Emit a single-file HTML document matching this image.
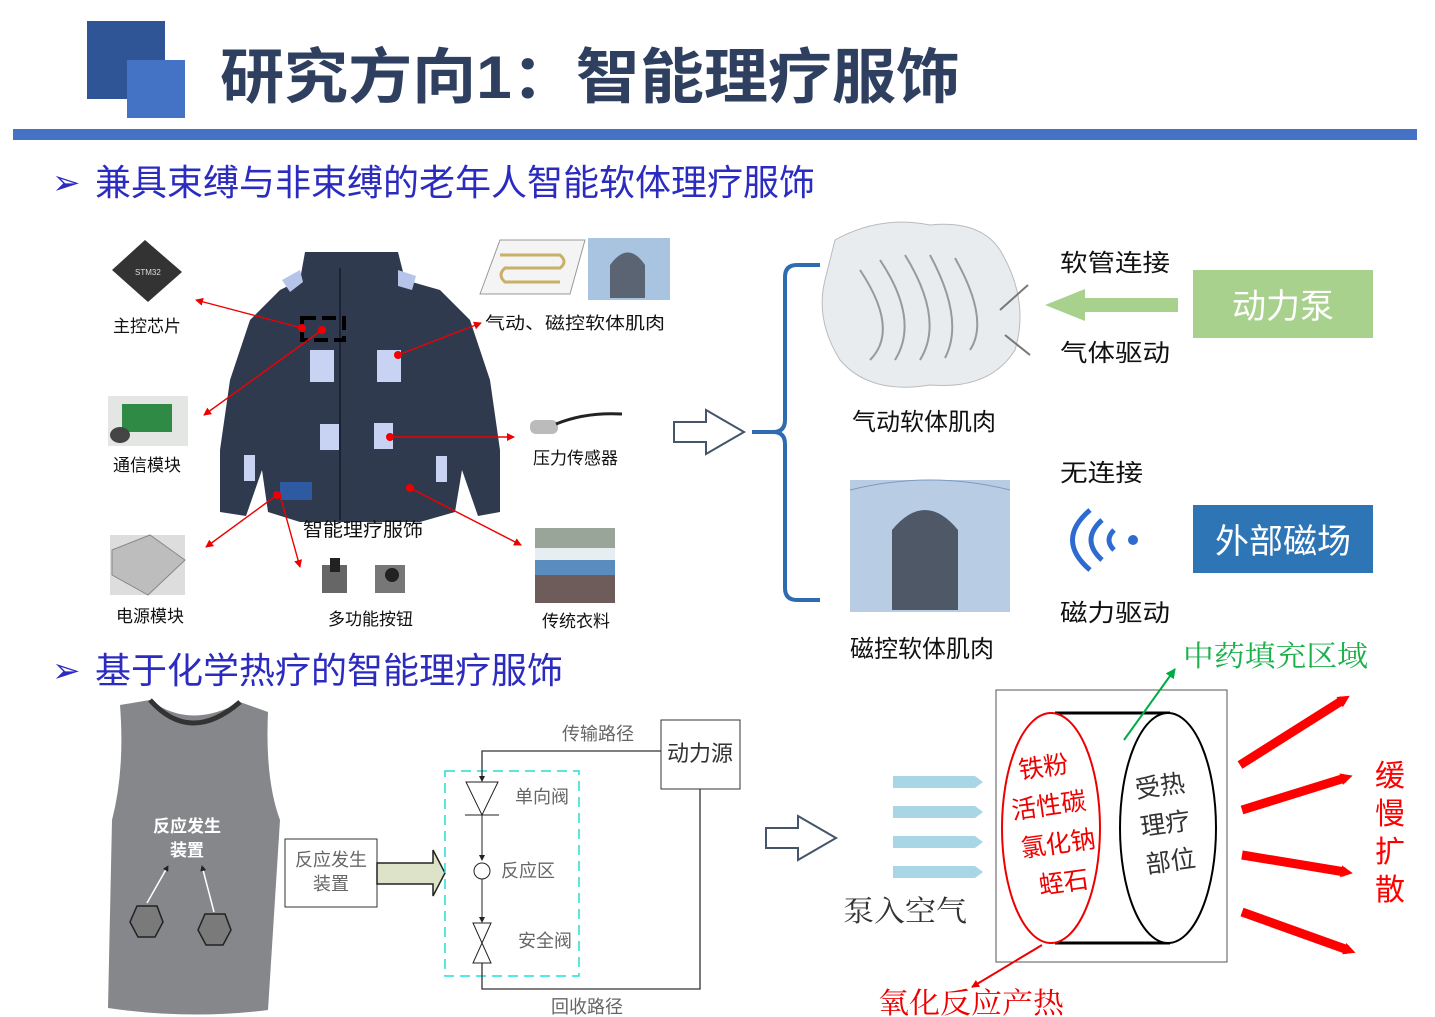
<!DOCTYPE html>
<html><head><meta charset="utf-8"><style>
body{margin:0;background:#fff;}
svg{display:block;}
text{font-family:"Liberation Sans","Noto Sans CJK SC",sans-serif;}
.serif{font-family:"Liberation Serif","Noto Serif CJK SC",serif;}
</style></head><body>
<svg width="1435" height="1017" viewBox="0 0 1435 1017" xmlns="http://www.w3.org/2000/svg">
<defs>
<marker id="ra" markerWidth="8" markerHeight="8" refX="7" refY="4" orient="auto" markerUnits="userSpaceOnUse"><path d="M0,0 L8,4 L0,8 z" fill="#e00"/></marker>
<marker id="ka" markerWidth="6" markerHeight="6" refX="5" refY="3" orient="auto" markerUnits="userSpaceOnUse"><path d="M0,0 L6,3 L0,6 z" fill="#222"/></marker>
<marker id="ga" markerWidth="10" markerHeight="10" refX="9" refY="5" orient="auto" markerUnits="userSpaceOnUse"><path d="M0,0 L10,5 L0,10 z" fill="#0a4"/></marker>
<marker id="rl" markerWidth="12" markerHeight="12" refX="4" refY="6" orient="auto" markerUnits="userSpaceOnUse"><path d="M0,0 L12,6 L0,12 z" fill="#f00"/></marker>
</defs>
<rect x="87" y="21" width="78" height="78" fill="#2F5597"/>
<rect x="127" y="60" width="58" height="58" fill="#4472C4"/>
<text x="220" y="98" font-size="60" font-weight="bold" fill="#2E3F5F" textLength="740" lengthAdjust="spacingAndGlyphs">研究方向1：智能理疗服饰</text>
<rect x="13" y="129" width="1404" height="11" fill="#4472C4"/>
<text x="52" y="194" font-size="34" fill="#2B2BC0">➢</text>
<text x="95" y="195" font-size="36" fill="#2B2BC0" textLength="720" lengthAdjust="spacingAndGlyphs">兼具束缚与非束缚的老年人智能软体理疗服饰</text>

<polygon points="305,252 398,252 405,280 440,290 470,320 490,380 500,450 500,512 478,516 462,470 455,512 420,522 300,522 268,512 262,470 246,516 220,512 220,450 230,380 250,320 280,290 300,280" fill="#2F3A4E"/>
<line x1="340" y1="268" x2="340" y2="520" stroke="#1a2233" stroke-width="2"/>
<polygon points="282,280 300,270 303,282 290,292" fill="#B7C4EA"/>
<polygon points="398,270 416,276 412,290 398,286" fill="#B7C4EA"/>
<rect x="310" y="350" width="24" height="32" fill="#C8D2F2"/>
<rect x="377" y="350" width="24" height="32" fill="#C8D2F2"/>
<rect x="320" y="424" width="19" height="26" fill="#C8D2F2"/>
<rect x="374" y="423" width="19" height="26" fill="#C8D2F2"/>
<rect x="244" y="455" width="11" height="26" fill="#C8D2F2"/>
<rect x="436" y="456" width="11" height="26" fill="#C8D2F2"/>
<rect x="280" y="482" width="32" height="18" fill="#2D5AA0"/>
<rect x="302" y="318" width="42" height="22" fill="none" stroke="#000" stroke-width="4" stroke-dasharray="14,6"/>
<g stroke="#e00" stroke-width="1.4" fill="none" marker-end="url(#ra)">
<line x1="302" y1="328" x2="196" y2="300"/>
<line x1="322" y1="330" x2="204" y2="415"/>
<line x1="398" y1="355" x2="481" y2="323"/>
<line x1="390" y1="437" x2="514" y2="437"/>
<line x1="410" y1="488" x2="521" y2="545"/>
<line x1="277" y1="495" x2="206" y2="547"/>
<line x1="280" y1="495" x2="300" y2="567"/>
</g>
<g fill="#e00"><circle cx="302" cy="328" r="4"/><circle cx="322" cy="330" r="4"/><circle cx="398" cy="355" r="4"/><circle cx="390" cy="437" r="4"/><circle cx="410" cy="488" r="4"/><circle cx="277" cy="495" r="4"/></g>
<polygon points="112,270 145,240 182,272 148,302" fill="#333"/>
<text x="135" y="275" font-size="8" fill="#ddd">STM32</text>
<rect x="108" y="396" width="80" height="50" fill="#E4E6E4"/><rect x="122" y="404" width="50" height="28" fill="#2E8A45"/><ellipse cx="120" cy="435" rx="10" ry="8" fill="#444"/>
<rect x="110" y="535" width="75" height="60" fill="#ddd"/><polygon points="112,550 150,535 185,560 148,595 112,575" fill="#BDBDBD" stroke="#888"/>
<rect x="322" y="565" width="25" height="28" fill="#666"/><rect x="375" y="565" width="30" height="28" fill="#777"/><rect x="330" y="558" width="10" height="14" fill="#222"/><circle cx="392" cy="575" r="7" fill="#222"/>
<rect x="530" y="420" width="28" height="14" rx="6" fill="#bbb"/><path d="M556,424 Q585,412 622,414" stroke="#222" stroke-width="3" fill="none"/>
<rect x="535" y="528" width="80" height="20" fill="#9AA59A"/><rect x="535" y="548" width="80" height="12" fill="#e6eef2"/><rect x="535" y="560" width="80" height="15" fill="#5A8CC0"/><rect x="535" y="575" width="80" height="28" fill="#6E5C5A"/>
<polygon points="500,240 585,240 570,294 480,294" fill="#f4f4f4" stroke="#999"/>
<path d="M500,255 H560 Q568,262 560,268 H505 Q497,275 505,282 H560" fill="none" stroke="#C8B068" stroke-width="3"/>
<rect x="588" y="238" width="82" height="62" fill="#A9C4E0"/><path d="M610,298 V265 Q628,240 645,265 V298z" fill="#5A6472"/>
<g font-size="17" fill="#111">
<text x="113" y="332">主控芯片</text>
<text x="113" y="471">通信模块</text>
<text x="116" y="622">电源模块</text>
<text x="328" y="625">多功能按钮</text>
<text x="533" y="464">压力传感器</text>
<text x="542" y="627">传统衣料</text>
<text x="485" y="329" textLength="180" lengthAdjust="spacingAndGlyphs">气动、磁控软体肌肉</text>
<text x="303" y="536" font-size="19" textLength="120" lengthAdjust="spacingAndGlyphs">智能理疗服饰</text>
</g>
<polygon points="674,422 706,422 706,410 744,432 706,454 706,442 674,442" fill="#fff" stroke="#44546A" stroke-width="2"/>
<path d="M820,265 H797 Q785,265 785,277 V420 Q785,432 773,432 H752 M773,432 Q785,432 785,444 V588 Q785,600 797,600 H820" fill="none" stroke="#2E6BB0" stroke-width="4"/>
<path d="M835,240 Q880,215 930,225 Q980,220 1000,250 Q1030,300 1015,350 Q990,390 930,385 Q870,395 840,360 Q815,320 825,280 Z" fill="#E8ECEF" stroke="#bbb"/>
<g stroke="#999" fill="none" stroke-width="2"><path d="M860,270 Q900,330 870,360 M880,260 Q920,320 895,360 M905,255 Q945,320 920,360 M930,255 Q965,320 945,358 M955,258 Q990,320 970,350"/></g>
<line x1="1000" y1="310" x2="1028" y2="285" stroke="#777" stroke-width="2"/><line x1="1005" y1="335" x2="1030" y2="355" stroke="#777" stroke-width="2"/>
<path d="M850,480 H1010 V612 H850 Z" fill="#B8CDE4"/>
<path d="M850,490 Q930,470 1010,490" fill="none" stroke="#7E9BBE"/>
<path d="M892,610 V530 Q925,490 958,530 V610 Z" fill="#4E5866"/>
<g font-size="24" fill="#111">
<text x="852" y="430">气动软体肌肉</text>
<text x="850" y="657">磁控软体肌肉</text>
<text x="1060" y="271" textLength="110" lengthAdjust="spacingAndGlyphs">软管连接</text>
<text x="1060" y="361" textLength="110" lengthAdjust="spacingAndGlyphs">气体驱动</text>
<text x="1060" y="481" textLength="83" lengthAdjust="spacingAndGlyphs">无连接</text>
<text x="1060" y="621" textLength="110" lengthAdjust="spacingAndGlyphs">磁力驱动</text>
</g>
<polygon points="1178,298 1085,298 1085,289 1045,305 1085,321 1085,312 1178,312" fill="#A9D18E"/>
<rect x="1193" y="270" width="180" height="68" fill="#A9D18E"/>
<text x="1283" y="318" font-size="34" fill="#fff" text-anchor="middle">动力泵</text>
<rect x="1193" y="505" width="180" height="68" fill="#2E75B6"/>
<text x="1283" y="553" font-size="34" fill="#fff" text-anchor="middle">外部磁场</text>
<g fill="none" stroke="#2E6BD0" stroke-width="5"><path d="M1090,510 Q1055,540 1090,570"/><path d="M1102,520 Q1080,540 1102,560"/><path d="M1114,530 Q1104,540 1114,550"/></g>
<circle cx="1133" cy="540" r="5" fill="#2E6BD0"/>

<text x="52" y="682" font-size="34" fill="#2B2BC0">➢</text>
<text x="95" y="683" font-size="36" fill="#2B2BC0" textLength="468" lengthAdjust="spacingAndGlyphs">基于化学热疗的智能理疗服饰</text>
<path d="M120,705 L150,700 Q190,730 240,702 L268,712 Q265,780 280,820 L268,1010 Q190,1020 108,1008 L112,820 Q125,770 120,705 Z" fill="#85878A"/>
<path d="M150,700 Q190,745 240,702" fill="none" stroke="#333" stroke-width="5"/>
<text x="187" y="832" font-size="17" font-weight="bold" fill="#fff" text-anchor="middle">反应发生</text>
<text x="187" y="856" font-size="17" font-weight="bold" fill="#fff" text-anchor="middle">装置</text>
<polygon points="137,906 157,906 163,922 155,937 138,937 130,922" fill="#7a7a7a" stroke="#222" stroke-width="1.5"/>
<polygon points="205,914 225,914 231,930 223,945 206,945 198,930" fill="#7a7a7a" stroke="#222" stroke-width="1.5"/>
<g stroke="#fff" stroke-width="1.5" marker-end="url(#ka)"><line x1="147" y1="903" x2="168" y2="866"/><line x1="214" y1="912" x2="202" y2="866"/></g>
<g class="serif" font-size="18" fill="#666">
<rect x="285" y="839" width="92" height="68" fill="#fff" stroke="#333"/>
<text x="331" y="866" text-anchor="middle">反应发生</text>
<text x="331" y="890" text-anchor="middle">装置</text>
<polygon points="377,863 433,863 433,850 445,873 433,896 433,884 377,884" fill="#DCE3C8" stroke="#222" stroke-width="1.5"/>
<rect x="445" y="771" width="134" height="205" fill="none" stroke="#2DD" stroke-width="1.5" stroke-dasharray="10,6"/>
<rect x="661" y="720" width="79" height="69" fill="#fff" stroke="#333"/>
<text x="700" y="761" text-anchor="middle" font-size="22" fill="#333">动力源</text>
<path d="M661,751 H482 V781" fill="none" stroke="#333" stroke-width="1.3" marker-end="url(#ka)"/>
<polygon points="466,782 498,782 482,815" fill="#fff" stroke="#222"/>
<line x1="465" y1="815" x2="499" y2="815" stroke="#222"/>
<line x1="482" y1="815" x2="482" y2="860" stroke="#222" marker-end="url(#ka)"/>
<circle cx="482" cy="871" r="8" fill="#fff" stroke="#222"/>
<line x1="482" y1="879" x2="482" y2="922" stroke="#222" marker-end="url(#ka)"/>
<polygon points="473,923 491,923 482,943 473,963 491,963 482,943" fill="#fff" stroke="#222"/>
<path d="M482,963 V989 H700 V789" fill="none" stroke="#333" stroke-width="1.3"/>
<text x="562" y="740">传输路径</text>
<text x="515" y="803">单向阀</text>
<text x="501" y="877">反应区</text>
<text x="518" y="947">安全阀</text>
<text x="551" y="1013">回收路径</text>
</g>
<polygon points="766,828 798,828 798,816 836,838 798,860 798,848 766,848" fill="#fff" stroke="#44546A" stroke-width="2"/>
<g fill="#A9D6E4">
<polygon points="893,776 975,776 983,782 975,788 893,788"/>
<polygon points="893,806 975,806 983,812 975,818 893,818"/>
<polygon points="893,836 975,836 983,842 975,848 893,848"/>
<polygon points="893,866 975,866 983,872 975,878 893,878"/>
</g>
<text class="serif" x="843" y="921" font-size="29" fill="#333" textLength="124" lengthAdjust="spacingAndGlyphs">泵入空气</text>
<rect x="996" y="690" width="231" height="272" fill="#fff" stroke="#555"/>
<line x1="1055" y1="713" x2="1170" y2="713" stroke="#000" stroke-width="3"/>
<line x1="1055" y1="943" x2="1170" y2="943" stroke="#000" stroke-width="3"/>
<ellipse cx="1168" cy="828" rx="48" ry="115" fill="#fff" stroke="#000" stroke-width="2"/>
<ellipse cx="1051" cy="828" rx="49" ry="115" fill="#fff" stroke="#e00" stroke-width="2"/>
<g class="serif" font-size="25" fill="#e00" transform="rotate(-8 1052 828)" text-anchor="middle">
<text x="1052" y="775">铁粉</text><text x="1052" y="814">活性碳</text><text x="1056" y="853">氯化钠</text><text x="1056" y="892">蛭石</text>
</g>
<g class="serif" font-size="25" fill="#333" transform="rotate(-8 1168 828)" text-anchor="middle">
<text x="1166" y="794">受热</text><text x="1166" y="832">理疗</text><text x="1166" y="870">部位</text>
</g>
<line x1="1124" y1="740" x2="1175" y2="669" stroke="#0a4" stroke-width="2" marker-end="url(#ga)"/>
<line x1="1042" y1="945" x2="972" y2="987" stroke="#e00" stroke-width="2" marker-end="url(#ra)"/>
<text class="serif" x="1183" y="666" font-size="29" fill="#1CB04B" textLength="185" lengthAdjust="spacingAndGlyphs">中药填充区域</text>
<text class="serif" x="878" y="1013" font-size="29" fill="#e00" textLength="186" lengthAdjust="spacingAndGlyphs">氧化反应产热</text>
<g stroke="#f00" stroke-width="9" marker-end="url(#rl)">
<line x1="1240" y1="765" x2="1343" y2="700"/>
<line x1="1242" y1="810" x2="1345" y2="778"/>
<line x1="1242" y1="855" x2="1345" y2="872"/>
<line x1="1242" y1="912" x2="1348" y2="950"/>
</g>
<g class="serif" font-size="30" fill="#f00" text-anchor="middle">
<text x="1390" y="786">缓</text><text x="1390" y="824">慢</text><text x="1390" y="862">扩</text><text x="1390" y="900">散</text>
</g>
</svg>
</body></html>
